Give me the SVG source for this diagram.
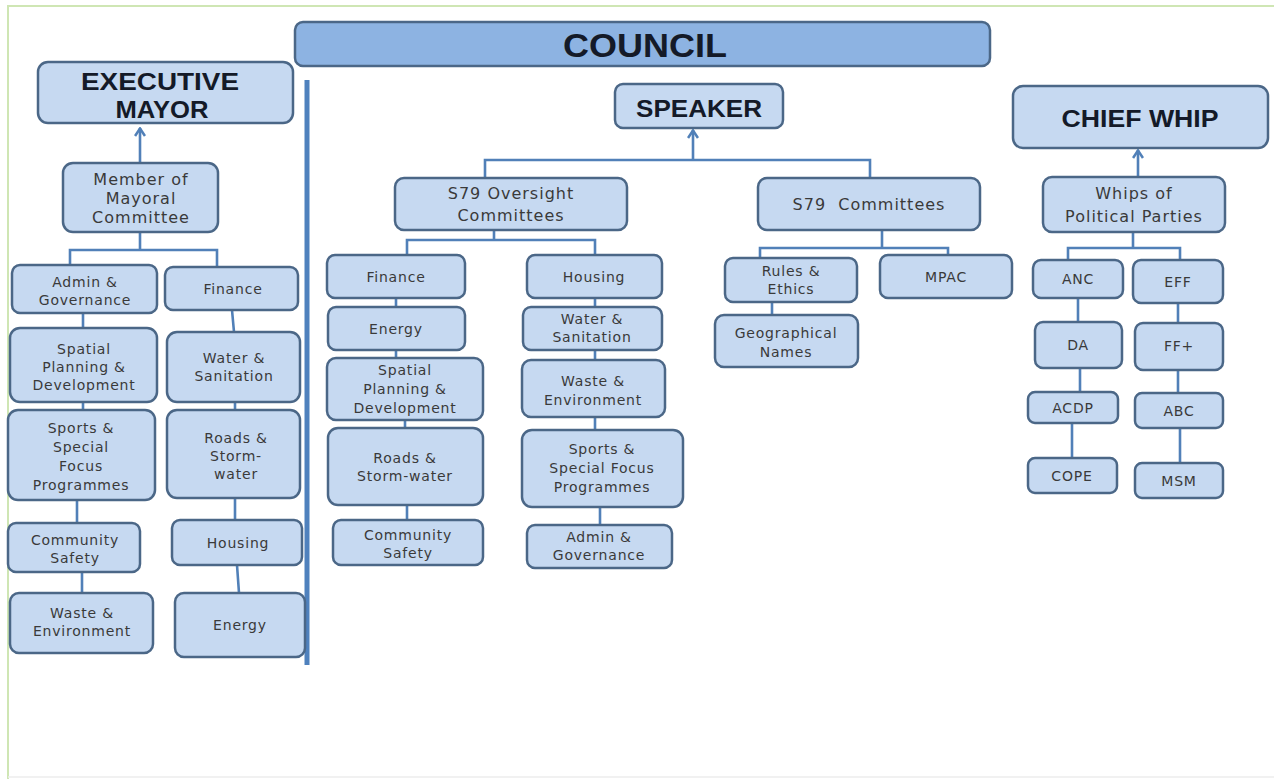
<svg xmlns="http://www.w3.org/2000/svg" width="1274" height="779" viewBox="0 0 1274 779">
<defs>
<style>
.n{fill:#c6d9f1;stroke:#4b6787;stroke-width:2.5}
.c{fill:none;stroke:#5180b8;stroke-width:2.6}
.t{font-family:"DejaVu Sans",sans-serif;font-size:14px;letter-spacing:0.8px;fill:#3a3a3a;text-anchor:middle}
.m{font-size:16px;letter-spacing:1px}
.h{font-family:"Liberation Sans",Arial,sans-serif;font-weight:bold;font-size:23px;fill:#141a28;text-anchor:middle}
</style>
<marker id="ah" viewBox="0 0 10 12" refX="9" refY="6" markerWidth="10" markerHeight="12" markerUnits="userSpaceOnUse" orient="auto">
<path d="M1,1 L8.5,6 L1,11" fill="none" stroke="#5180b8" stroke-width="2.6"/>
</marker>
</defs>
<rect width="1274" height="779" fill="#ffffff"/>
<path d="M8,779 V6 H1274" fill="none" stroke="#cfe6b4" stroke-width="2"/>
<path d="M8,777 H1274" fill="none" stroke="#ececec" stroke-width="1.5"/>

<g id="connectors">
<path class="c" d="M140,162 V128" marker-end="url(#ah)"/>
<path class="c" d="M140,232 V250 M70,265 V250 H217 V267"/>
<path class="c" d="M83,313 V328 M83,402 V410 M77,500 V523 M82,572 V593"/>
<path class="c" d="M232,310 L234,332 M235,402 V410 M235,498 V520 M237,565 L239,593"/>
<path d="M307,80 V665" fill="none" stroke="#4f81bd" stroke-width="5"/>
<path class="c" d="M693,160 V130" marker-end="url(#ah)"/>
<path class="c" d="M485,178 V160 H870 V178"/>
<path class="c" d="M494,230 V240 M407,255 V240 H595 V255"/>
<path class="c" d="M396,298 V307 M396,350 V358 M405,420 V428 M407,505 V520"/>
<path class="c" d="M595,298 V307 M595,350 V360 M595,417 V430 M600,507 V525"/>
<path class="c" d="M882,230 V248 M760,258 V248 H948 V255"/>
<path class="c" d="M772,302 V315"/>
<path class="c" d="M1138,177 V150" marker-end="url(#ah)"/>
<path class="c" d="M1133,232 V248 M1068,260 V248 H1180 V260"/>
<path class="c" d="M1078,298 V322 M1080,368 V392 M1072,423 V458"/>
<path class="c" d="M1178,303 V323 M1178,370 V393 M1180,428 V463"/>
</g>

<g id="council">
<rect x="295" y="22" width="695" height="44" rx="8" fill="#8db3e2" stroke="#4b6787" stroke-width="2.5"/>
<text x="645" y="57" class="h" style="font-size:34px" textLength="164" lengthAdjust="spacingAndGlyphs">COUNCIL</text>
</g>

<g id="executive-mayor">
<rect class="n" x="38" y="62" width="255" height="61" rx="10"/>
<text class="h" x="160" y="90" textLength="158" lengthAdjust="spacingAndGlyphs">EXECUTIVE</text>
<text class="h" x="162" y="118" textLength="93" lengthAdjust="spacingAndGlyphs">MAYOR</text>
</g>
<g id="mmc">
<rect class="n" x="63" y="163" width="155" height="69" rx="10"/>
<text class="t m" x="141" y="185">Member of</text>
<text class="t m" x="141" y="204">Mayoral</text>
<text class="t m" x="141" y="223">Committee</text>
</g>
<g id="e-admin">
<rect class="n" x="12" y="265" width="145" height="48" rx="8"/>
<text class="t" x="85" y="287">Admin &amp;</text>
<text class="t" x="85" y="305">Governance</text>
</g>
<g id="e-finance">
<rect class="n" x="165" y="267" width="133" height="43" rx="8"/>
<text class="t" x="233" y="294">Finance</text>
</g>
<g id="e-spatial">
<rect class="n" x="10" y="328" width="147" height="74" rx="10"/>
<text class="t" x="84" y="354">Spatial</text>
<text class="t" x="84" y="372">Planning &amp;</text>
<text class="t" x="84" y="390">Development</text>
</g>
<g id="e-water">
<rect class="n" x="167" y="332" width="133" height="70" rx="10"/>
<text class="t" x="234" y="363">Water &amp;</text>
<text class="t" x="234" y="381">Sanitation</text>
</g>
<g id="e-sports">
<rect class="n" x="8" y="410" width="147" height="90" rx="10"/>
<text class="t" x="81" y="433">Sports &amp;</text>
<text class="t" x="81" y="452">Special</text>
<text class="t" x="81" y="471">Focus</text>
<text class="t" x="81" y="490">Programmes</text>
</g>
<g id="e-roads">
<rect class="n" x="167" y="410" width="133" height="88" rx="10"/>
<text class="t" x="236" y="443">Roads &amp;</text>
<text class="t" x="236" y="461">Storm-</text>
<text class="t" x="236" y="479">water</text>
</g>
<g id="e-community">
<rect class="n" x="8" y="523" width="132" height="49" rx="8"/>
<text class="t" x="75" y="545">Community</text>
<text class="t" x="75" y="563">Safety</text>
</g>
<g id="e-housing">
<rect class="n" x="172" y="520" width="130" height="45" rx="8"/>
<text class="t" x="238" y="548">Housing</text>
</g>
<g id="e-waste">
<rect class="n" x="10" y="593" width="143" height="60" rx="9"/>
<text class="t" x="82" y="618">Waste &amp;</text>
<text class="t" x="82" y="636">Environment</text>
</g>
<g id="e-energy">
<rect class="n" x="175" y="593" width="130" height="64" rx="9"/>
<text class="t" x="240" y="630">Energy</text>
</g>

<g id="speaker">
<rect class="n" x="615" y="84" width="168" height="44" rx="8"/>
<text class="h" x="699" y="117" textLength="126" lengthAdjust="spacingAndGlyphs">SPEAKER</text>
</g>
<g id="s79-oversight">
<rect class="n" x="395" y="178" width="232" height="52" rx="9"/>
<text class="t m" x="511" y="199">S79 Oversight</text>
<text class="t m" x="511" y="221">Committees</text>
</g>
<g id="o-finance">
<rect class="n" x="327" y="255" width="138" height="43" rx="8"/>
<text class="t" x="396" y="282">Finance</text>
</g>
<g id="o-energy">
<rect class="n" x="328" y="307" width="137" height="43" rx="8"/>
<text class="t" x="396" y="334">Energy</text>
</g>
<g id="o-spatial">
<rect class="n" x="327" y="358" width="156" height="62" rx="9"/>
<text class="t" x="405" y="375">Spatial</text>
<text class="t" x="405" y="394">Planning &amp;</text>
<text class="t" x="405" y="413">Development</text>
</g>
<g id="o-roads">
<rect class="n" x="328" y="428" width="155" height="77" rx="10"/>
<text class="t" x="405" y="463">Roads &amp;</text>
<text class="t" x="405" y="481">Storm-water</text>
</g>
<g id="o-community">
<rect class="n" x="333" y="520" width="150" height="45" rx="8"/>
<text class="t" x="408" y="540">Community</text>
<text class="t" x="408" y="558">Safety</text>
</g>
<g id="o-housing">
<rect class="n" x="527" y="255" width="135" height="43" rx="8"/>
<text class="t" x="594" y="282">Housing</text>
</g>
<g id="o-water">
<rect class="n" x="523" y="307" width="139" height="43" rx="8"/>
<text class="t" x="592" y="324">Water &amp;</text>
<text class="t" x="592" y="342">Sanitation</text>
</g>
<g id="o-waste">
<rect class="n" x="522" y="360" width="143" height="57" rx="9"/>
<text class="t" x="593" y="386">Waste &amp;</text>
<text class="t" x="593" y="405">Environment</text>
</g>
<g id="o-sports">
<rect class="n" x="522" y="430" width="161" height="77" rx="10"/>
<text class="t" x="602" y="454">Sports &amp;</text>
<text class="t" x="602" y="473">Special Focus</text>
<text class="t" x="602" y="492">Programmes</text>
</g>
<g id="o-admin">
<rect class="n" x="527" y="525" width="145" height="43" rx="8"/>
<text class="t" x="599" y="542">Admin &amp;</text>
<text class="t" x="599" y="560">Governance</text>
</g>

<g id="s79-committees">
<rect class="n" x="758" y="178" width="222" height="52" rx="9"/>
<text class="t m" x="869" y="210" xml:space="preserve">S79  Committees</text>
</g>
<g id="rules-ethics">
<rect class="n" x="725" y="258" width="132" height="44" rx="8"/>
<text class="t" x="791" y="276">Rules &amp;</text>
<text class="t" x="791" y="294">Ethics</text>
</g>
<g id="mpac">
<rect class="n" x="880" y="255" width="132" height="43" rx="8"/>
<text class="t" x="946" y="282">MPAC</text>
</g>
<g id="geographical-names">
<rect class="n" x="715" y="315" width="143" height="52" rx="9"/>
<text class="t" x="786" y="338">Geographical</text>
<text class="t" x="786" y="357">Names</text>
</g>

<g id="chief-whip">
<rect class="n" x="1013" y="86" width="255" height="62" rx="10"/>
<text class="h" x="1140" y="127" textLength="157" lengthAdjust="spacingAndGlyphs">CHIEF WHIP</text>
</g>
<g id="whips">
<rect class="n" x="1043" y="177" width="182" height="55" rx="9"/>
<text class="t m" x="1134" y="199">Whips of</text>
<text class="t m" x="1134" y="222">Political Parties</text>
</g>
<g id="anc">
<rect class="n" x="1033" y="260" width="90" height="38" rx="8"/>
<text class="t" x="1078" y="284">ANC</text>
</g>
<g id="eff">
<rect class="n" x="1133" y="260" width="90" height="43" rx="8"/>
<text class="t" x="1178" y="287">EFF</text>
</g>
<g id="da">
<rect class="n" x="1035" y="322" width="87" height="46" rx="8"/>
<text class="t" x="1078" y="350">DA</text>
</g>
<g id="ffplus">
<rect class="n" x="1135" y="323" width="88" height="47" rx="8"/>
<text class="t" x="1179" y="351">FF+</text>
</g>
<g id="acdp">
<rect class="n" x="1028" y="392" width="90" height="31" rx="7"/>
<text class="t" x="1073" y="413">ACDP</text>
</g>
<g id="abc">
<rect class="n" x="1135" y="393" width="88" height="35" rx="7"/>
<text class="t" x="1179" y="416">ABC</text>
</g>
<g id="cope">
<rect class="n" x="1028" y="458" width="89" height="35" rx="7"/>
<text class="t" x="1072" y="481">COPE</text>
</g>
<g id="msm">
<rect class="n" x="1135" y="463" width="88" height="35" rx="7"/>
<text class="t" x="1179" y="486">MSM</text>
</g>
</svg>
